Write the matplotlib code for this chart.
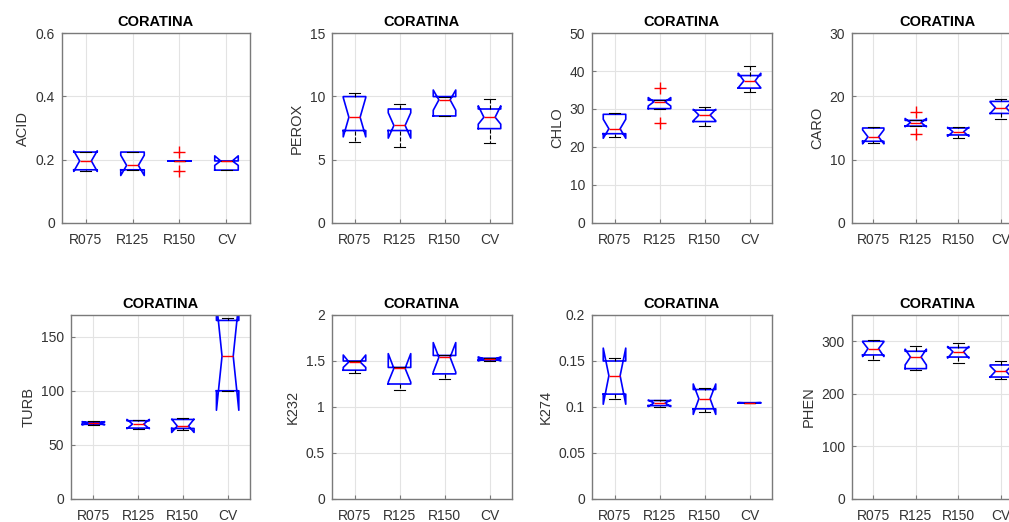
import matplotlib
matplotlib.use('Agg')
import matplotlib.pyplot as plt

plt.rcParams['font.family'] = ['Liberation Sans', 'DejaVu Sans']

groups = ['R075', 'R125', 'R150', 'CV']

# each row: whisker low, q1, notch low, median, notch high, q3, whisker high
acid = [[0.165, 0.168, 0.163, 0.196, 0.228, 0.224, 0.225],
        [0.166, 0.168, 0.150, 0.182, 0.214, 0.224, 0.225],
        [0.195, 0.195, 0.195, 0.195, 0.195, 0.195, 0.195],
        [0.166, 0.167, 0.182, 0.196, 0.212, 0.196, 0.197]]
acid_out = [[], [], [0.224, 0.163], []]

perox = [[6.4, 7.3, 6.8, 8.35, 9.9, 9.98, 10.25],
         [6.0, 7.3, 6.7, 7.7, 8.7, 9.0, 9.4],
         [8.45, 8.45, 8.9, 9.72, 10.5, 9.98, 9.98],
         [6.3, 7.45, 7.8, 8.35, 9.25, 9.0, 9.8]]
perox_out = [[], [], [], []]

chlo = [[22.6, 23.5, 22.3, 24.8, 27.3, 28.6, 29.0],
        [30.0, 30.1, 30.8, 31.9, 33.0, 32.3, 32.4],
        [25.4, 26.7, 26.9, 28.4, 29.9, 29.7, 30.4],
        [34.6, 35.5, 35.6, 37.4, 39.4, 38.8, 41.2]]
chlo_out = [[], [35.6, 26.3], [], []]

caro = [[12.6, 12.9, 12.5, 13.6, 14.7, 15.0, 15.2],
        [15.3, 15.3, 15.2, 15.85, 16.5, 16.2, 16.3],
        [13.5, 13.9, 13.7, 14.4, 15.1, 15.0, 15.2],
        [16.5, 17.3, 17.3, 18.2, 19.1, 19.2, 19.6]]
caro_out = [[], [17.5, 14.0], [], []]

turb = [[68.5, 69.0, 68.5, 70.0, 71.5, 71.0, 72.0],
        [65.0, 65.5, 65.0, 69.2, 73.5, 72.3, 73.0],
        [64.0, 65.2, 61.5, 67.4, 73.8, 73.5, 75.0],
        [99.5, 100.0, 82.0, 132.0, 182.0, 165.0, 167.5]]
turb_out = [[], [], [], []]

k232 = [[1.373, 1.40, 1.43, 1.49, 1.565, 1.50, 1.50],
        [1.19, 1.25, 1.27, 1.42, 1.58, 1.43, 1.44],
        [1.30, 1.36, 1.38, 1.54, 1.70, 1.56, 1.56],
        [1.505, 1.51, 1.50, 1.52, 1.545, 1.53, 1.535]]
k232_out = [[], [], [], []]

k274 = [[0.1087, 0.114, 0.103, 0.134, 0.164, 0.150, 0.153],
        [0.1005, 0.1015, 0.1005, 0.1043, 0.1075, 0.107, 0.108],
        [0.095, 0.098, 0.092, 0.109, 0.125, 0.119, 0.121],
        [0.1043, 0.1043, 0.1042, 0.1045, 0.1048, 0.1047, 0.1047]]
k274_out = [[], [], [], []]

phen = [[264, 274, 271, 286, 299, 300, 302],
        [246, 248, 255, 270, 285, 281, 291],
        [258, 270, 268, 280, 290, 288, 296],
        [229, 232, 232, 243, 253, 255, 263]]
phen_out = [[], [], [], []]


def make_stats(rows, outliers):
    stats = []
    for r, out in zip(rows, outliers):
        lo, q1, cilo, med, cihi, q3, hi = r
        stats.append(dict(whislo=lo, q1=q1, cilo=cilo, med=med, cihi=cihi,
                          q3=q3, whishi=hi, fliers=out))
    return stats


W, H = 1009, 522
fig = plt.figure(figsize=(W / 100, H / 100), dpi=100)


def px_rect(left, top, right, bottom):
    return [left / W, 1 - bottom / H, (right - left) / W, (bottom - top) / H]


# name, data, outliers, ymax, tick step, (left, top, right, bottom) in px
panels = [
    ('ACID', acid, acid_out, 0.6, 0.2, (62, 33, 250, 223)),
    ('PEROX', perox, perox_out, 15, 5, (332, 33, 512, 223)),
    ('CHLO', chlo, chlo_out, 50, 10, (592, 33, 772, 223)),
    ('CARO', caro, caro_out, 30, 10, (852, 33, 1022, 223)),
    ('TURB', turb, turb_out, 170, 50, (71, 315, 250, 499)),
    ('K232', k232, k232_out, 2, 0.5, (332, 315, 512, 499)),
    ('K274', k274, k274_out, 0.2, 0.05, (592, 315, 772, 499)),
    ('PHEN', phen, phen_out, 350, 100, (852, 315, 1022, 499)),
]

frame = '#7a7a7a'
txt = '#333333'

for name, rows, out, ymax, step, box in panels:
    ax = fig.add_axes(px_rect(*box))
    ax.bxp(make_stats(rows, out), positions=[1, 2, 3, 4], widths=0.5,
           shownotches=True, manage_ticks=False,
           boxprops=dict(color='blue', lw=1.2),
           medianprops=dict(color='red', lw=1.0),
           whiskerprops=dict(color='black', ls='--', lw=0.8),
           capprops=dict(color='black', lw=0.8),
           flierprops=dict(marker='+', markeredgecolor='red', markersize=8,
                           linestyle='none', markeredgewidth=1.0))
    ax.set_xlim(0.5, 4.5)
    ax.set_ylim(0, ymax)
    ticks = []
    t = 0.0
    while t <= ymax + 1e-9:
        ticks.append(round(t, 6))
        t += step
    ax.set_yticks(ticks)
    ax.set_yticklabels([f'{v:g}' for v in ticks])
    ax.set_xticks([1, 2, 3, 4])
    ax.set_xticklabels(groups)
    ax.set_axisbelow(True)
    ax.grid(True, color='#e3e3e3', lw=0.8)
    ax.tick_params(direction='in', length=3, colors=frame, labelcolor=txt,
                   labelsize=10)
    ax.tick_params(axis='x', pad=7)
    ax.tick_params(axis='y', pad=5)
    for s in ax.spines.values():
        s.set_color(frame)
        s.set_linewidth(1.0)
    ax.set_ylabel(name, fontsize=10.5, color=txt)
    ax.set_title('CORATINA', fontsize=10.5, fontweight='bold', pad=5)

fig.savefig('out.png', dpi=100)
